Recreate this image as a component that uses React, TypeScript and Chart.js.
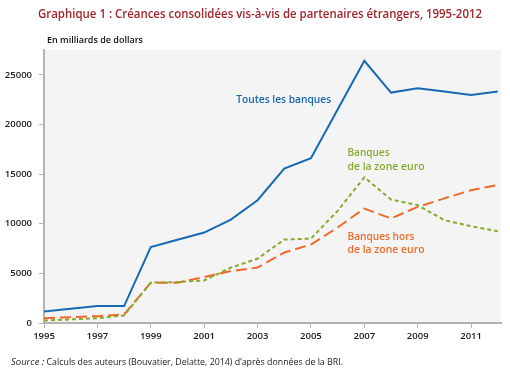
import React, { useEffect, useRef } from "react";
import { Chart, registerables } from "chart.js";

Chart.register(...registerables);

// ---- Data (billions of dollars) ----
const years = [1995, 1996, 1997, 1998, 1999, 2000, 2001, 2002, 2003, 2004, 2005, 2006, 2007, 2008, 2009, 2010, 2011, 2012];
const allBanks = [1160, 1430, 1700, 1700, 7650, 8380, 9110, 10420, 12370, 15560, 16590, 21500, 26410, 23210, 23650, 23330, 22980, 23310];
const euroBanks = [250, 360, 480, 760, 4060, 4120, 4290, 5580, 6480, 8400, 8500, 11300, 14670, 12440, 11870, 10350, 9750, 9250];
const nonEuroBanks = [480, 590, 690, 860, 4060, 4060, 4630, 5230, 5580, 7100, 7900, 9620, 11530, 10530, 11700, 12550, 13380, 13900];
const xTickLabels = [1995, 1997, 1999, 2001, 2003, 2005, 2007, 2009, 2011];
const yTickLabels = [0, 5000, 10000, 15000, 20000, 25000];

const TITLE = "Graphique 1 : Créances consolidées vis-à-vis de partenaires étrangers, 1995-2012";
const UNIT = "En milliards de dollars";
const SOURCE_LABEL = "Source :";
const SOURCE_TEXT = " Calculs des auteurs (Bouvatier, Delatte, 2014) d’après données de la BRI.";

const BLUE = "#1769b4";
const GREEN = "#86aa2e";
const ORANGE = "#ee6a2b";
const RED = "#a3242c";
const FONT = '"Open Sans", "Noto Sans", sans-serif';

const toPoints = (vals: number[]) => years.map((yr, i) => ({ x: yr, y: vals[i] }));

const decorPlugin = {
  id: "decor",
  beforeDraw(chart: any) {
    const { ctx, chartArea } = chart;
    ctx.save();
    ctx.fillStyle = "#f4f4f4";
    ctx.fillRect(chartArea.left, chartArea.top, chartArea.right - chartArea.left, chartArea.bottom - chartArea.top);
    ctx.restore();
  },
  afterDraw(chart: any) {
    const { ctx } = chart;
    const xs = chart.scales.x;
    const ys = chart.scales.y;
    ctx.save();
    ctx.textBaseline = "middle";
    ctx.textAlign = "left";

    // Title
    ctx.fillStyle = RED;
    ctx.font = `600 12.5px ${FONT}`;
    ctx.fillText(TITLE, 38, 14.5, 444);

    // Unit
    ctx.fillStyle = "#111";
    ctx.font = `600 9.5px ${FONT}`;
    ctx.fillText(UNIT, 47, 40, 96);

    // Source
    ctx.font = `italic 9.5px ${FONT}`;
    ctx.fillStyle = "#222";
    const sw = Math.min(ctx.measureText(SOURCE_LABEL).width, 34);
    ctx.fillText(SOURCE_LABEL, 11, 362, 34);
    ctx.font = `9.5px ${FONT}`;
    ctx.fillText(SOURCE_TEXT, 11 + sw, 362, 343 - 11 - sw);

    // Annotations
    ctx.font = `600 11px ${FONT}`;
    ctx.fillStyle = BLUE;
    ctx.fillText("Toutes les banques", xs.getPixelForValue(2002.2), ys.getPixelForValue(22500), 95);

    ctx.fillStyle = GREEN;
    const ax = xs.getPixelForValue(2006.37);
    ctx.fillText("Banques", ax, ys.getPixelForValue(17100), 42);
    ctx.fillText("de la zone euro", ax, ys.getPixelForValue(15720), 77);

    ctx.fillStyle = ORANGE;
    ctx.fillText("Banques hors", ax, ys.getPixelForValue(8680), 67);
    ctx.fillText("de la zone euro", ax, ys.getPixelForValue(7410), 77);

    ctx.restore();
  },
};

export default function App() {
  const ref = useRef<HTMLCanvasElement | null>(null);

  useEffect(() => {
    if (!ref.current) return;
    const chart = new Chart(ref.current, {
      type: "line",
      data: {
        datasets: [
          {
            label: "Toutes les banques",
            data: toPoints(allBanks),
            borderColor: BLUE,
            borderWidth: 2,
            pointRadius: 0,
            tension: 0,
          },
          {
            label: "Banques de la zone euro",
            data: toPoints(euroBanks),
            borderColor: GREEN,
            borderWidth: 2,
            borderDash: [4, 3],
            pointRadius: 0,
            tension: 0,
          },
          {
            label: "Banques hors de la zone euro",
            data: toPoints(nonEuroBanks),
            borderColor: ORANGE,
            borderWidth: 2,
            borderDash: [11, 5],
            pointRadius: 0,
            tension: 0,
          },
        ],
      },
      options: {
        responsive: false,
        animation: false,
        devicePixelRatio: 1,
        layout: { padding: { top: 50, right: 9, left: 0, bottom: 0 } },
        plugins: {
          legend: { display: false },
          title: { display: false },
          tooltip: { enabled: false },
        },
        scales: {
          x: {
            type: "linear",
            min: 1995,
            max: 2012.12,
            afterFit: (s: any) => {
              s.height = 53;
            },
            afterBuildTicks: (s: any) => {
              s.ticks = xTickLabels.map((v) => ({ value: v }));
            },
            border: { display: true, color: "#b3b3b3", width: 2 },
            grid: { drawOnChartArea: false, drawTicks: true, tickLength: 5, color: "#b3b3b3", lineWidth: 1 },
            ticks: {
              padding: 3,
              maxRotation: 0,
              autoSkip: false,
              color: "#1a1a1a",
              font: { family: FONT, size: 9.5, weight: "600" },
              callback: (v: any) => String(v),
            },
          },
          y: {
            type: "linear",
            min: 0,
            max: 27500,
            afterFit: (s: any) => {
              s.width = 44;
            },
            afterBuildTicks: (s: any) => {
              s.ticks = yTickLabels.map((v) => ({ value: v }));
            },
            border: { display: true, color: "#b3b3b3", width: 2 },
            grid: { drawOnChartArea: false, drawTicks: true, tickLength: 5, color: "#b3b3b3", lineWidth: 1 },
            ticks: {
              padding: 7,
              autoSkip: false,
              color: "#1a1a1a",
              font: { family: FONT, size: 9.5, weight: "600" },
              callback: (v: any) => String(v),
            },
          },
        },
      },
      plugins: [decorPlugin],
    });
    return () => chart.destroy();
  }, []);

  return (
    <div style={{ position: "fixed", left: 0, top: 0, width: 510, height: 376, background: "#fff" }}>
      <canvas ref={ref} width={510} height={376} style={{ display: "block", width: 510, height: 376 }} />
    </div>
  );
}
